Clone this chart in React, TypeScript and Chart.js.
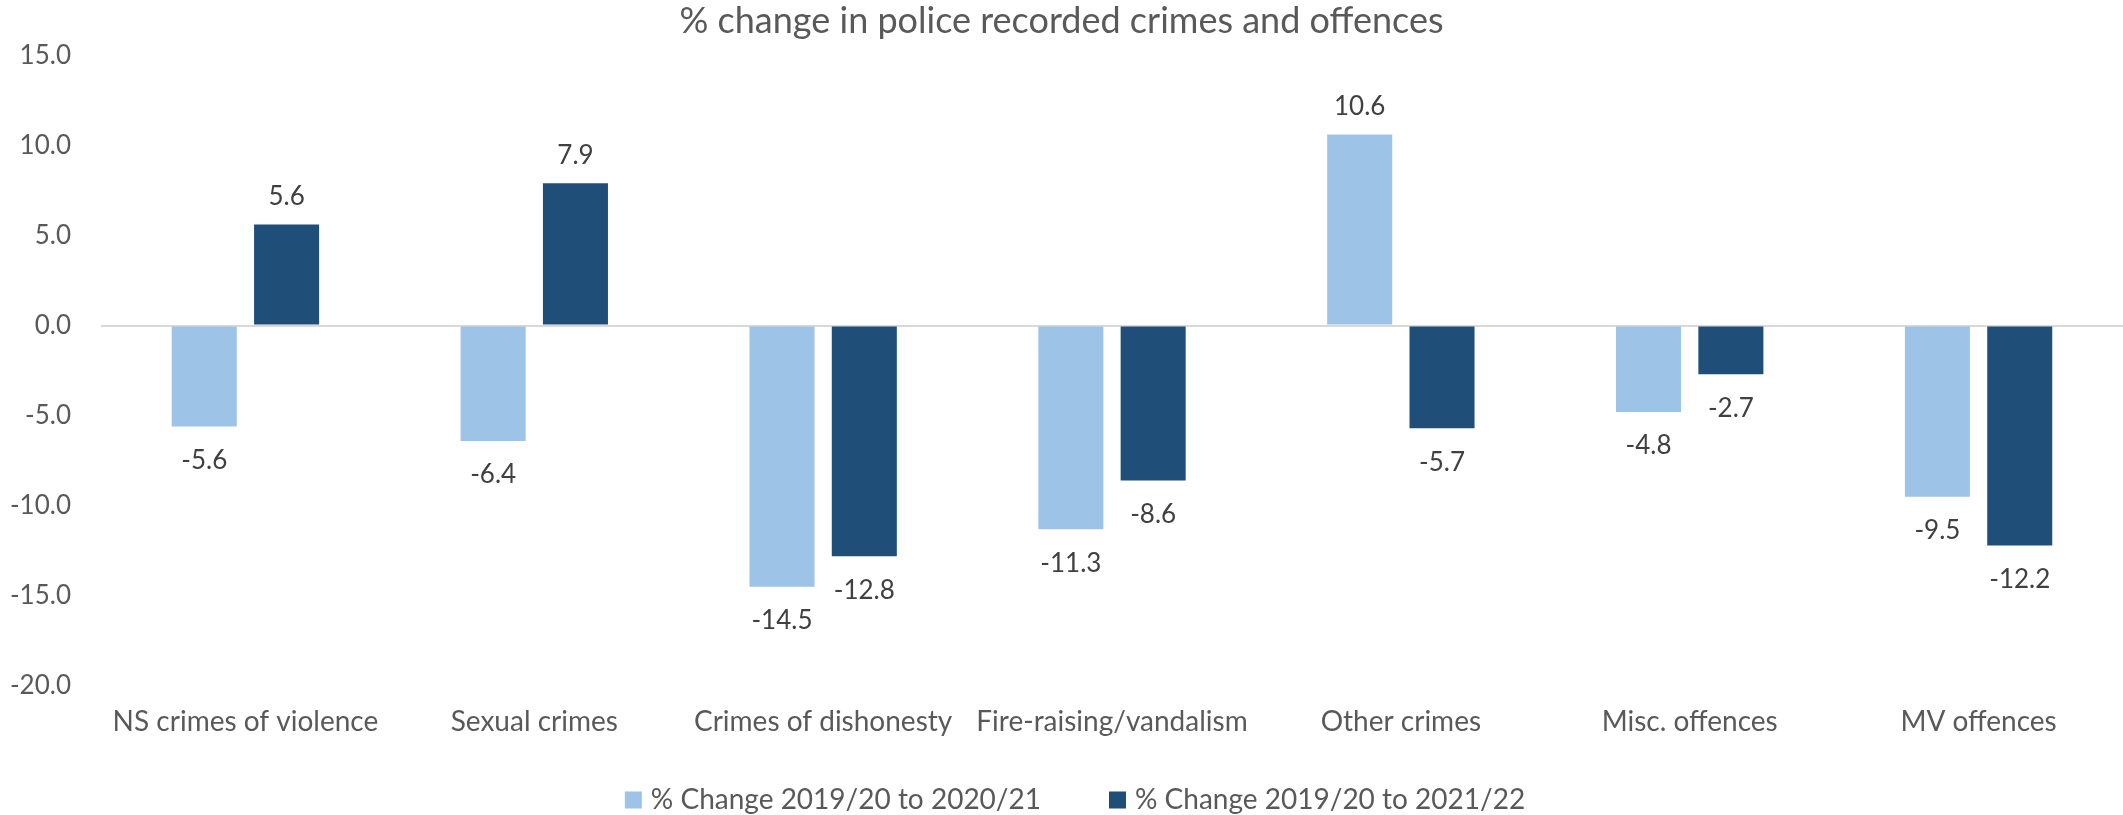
import React, { useEffect, useRef } from 'react';
import { Chart, registerables } from 'chart.js';

Chart.register(...registerables);

const categories = [
  'NS crimes of violence',
  'Sexual crimes',
  'Crimes of dishonesty',
  'Fire-raising/vandalism',
  'Other crimes',
  'Misc. offences',
  'MV offences',
];
const series1Label = '% Change 2019/20 to 2020/21';
const series2Label = '% Change 2019/20 to 2021/22';
const series1 = [-5.6, -6.4, -14.5, -11.3, 10.6, -4.8, -9.5];
const series2 = [5.6, 7.9, -12.8, -8.6, -5.7, -2.7, -12.2];
const yMin = -20;
const yMax = 15;
const yStep = 5;
const titleText = '% change in police recorded crimes and offences';

const FONT = 'Lato';

const dataLabels = {
  id: 'dataLabels',
  afterDatasetsDraw(chart: any) {
    const ctx = chart.ctx;
    ctx.save();
    ctx.font = `26px ${FONT}`;
    ctx.fillStyle = '#404040';
    ctx.textAlign = 'center';
    ctx.textBaseline = 'middle';
    chart.data.datasets.forEach((ds: any, di: number) => {
      const meta = chart.getDatasetMeta(di);
      meta.data.forEach((bar: any, i: number) => {
        const v = ds.data[i] as number;
        const y = v >= 0 ? bar.y - 28 : bar.y + 34;
        ctx.fillText(v.toFixed(1), bar.x, y);
      });
    });
    ctx.restore();
  },
};

const customLegend = {
  id: 'customLegend',
  afterDraw(chart: any) {
    const ctx = chart.ctx;
    ctx.save();
    ctx.font = `28px ${FONT}`;
    ctx.textBaseline = 'middle';
    ctx.textAlign = 'left';
    const box = 17;
    const textGap = 9;
    const itemGap = 68;
    const ds = chart.data.datasets;
    const widths = ds.map((d: any) => box + textGap + ctx.measureText(d.label).width);
    const total = widths.reduce((a: number, b: number) => a + b, 0) + itemGap * (ds.length - 1);
    const cx = 1075;
    const cy = 800;
    let x = cx - total / 2;
    ds.forEach((d: any, i: number) => {
      ctx.fillStyle = d.backgroundColor;
      ctx.fillRect(x, cy - box / 2, box, box);
      ctx.fillStyle = '#595959';
      ctx.fillText(d.label, x + box + textGap, cy);
      x += widths[i] + itemGap;
    });
    ctx.restore();
  },
};

export default function App() {
  const ref = useRef<HTMLCanvasElement | null>(null);
  useEffect(() => {
    document.body.style.margin = '0';
    let chart: Chart | null = null;
    let cancelled = false;
    const make = () => {
      if (cancelled || !ref.current) return;
      chart = new Chart(ref.current, {
        type: 'bar',
        data: {
          labels: categories,
          datasets: [
            { label: series1Label, data: series1, backgroundColor: '#9DC3E6', categoryPercentage: 0.57, barPercentage: 0.79 },
            { label: series2Label, data: series2, backgroundColor: '#1F4E79', categoryPercentage: 0.57, barPercentage: 0.79 },
          ],
        },
        options: {
          responsive: false,
          animation: false,
          layout: { padding: { left: 0, right: 0, top: 0, bottom: 69 } },
          plugins: {
            tooltip: { enabled: false },
            legend: { display: false },
            title: {
              display: true,
              text: titleText,
              color: '#595959',
              font: { family: FONT, size: 36, weight: 'normal' },
              padding: { top: 0, bottom: 12 },
            },
          },
          scales: {
            x: {
              grid: { display: false, drawTicks: false },
              border: { display: false },
              ticks: { color: '#595959', font: { family: FONT, size: 28 }, padding: 19, maxRotation: 0, autoSkip: false },
              afterFit: (s: any) => { s.height = 60; },
            },
            y: {
              min: yMin,
              max: yMax,
              grid: {
                drawTicks: false,
                color: (c: any) => (c.tick && c.tick.value === 0 ? '#D9D9D9' : 'rgba(0,0,0,0)'),
                lineWidth: 2,
              },
              border: { display: false },
              ticks: {
                stepSize: yStep,
                color: '#595959',
                font: { family: FONT, size: 26 },
                padding: 30,
                callback: (v: any) => Number(v).toFixed(1),
              },
              afterFit: (s: any) => { s.width = 101; },
            },
          },
        },
        plugins: [dataLabels, customLegend],
      });
    };
    const p = (document as any).fonts ? (document as any).fonts.load(`26px ${FONT}`) : Promise.resolve();
    p.then(make, make);
    return () => {
      cancelled = true;
      if (chart) chart.destroy();
    };
  }, []);
  return (
    <div style={{ width: 2123, height: 815 }}>
      <canvas ref={ref} width={2123} height={815} />
    </div>
  );
}
